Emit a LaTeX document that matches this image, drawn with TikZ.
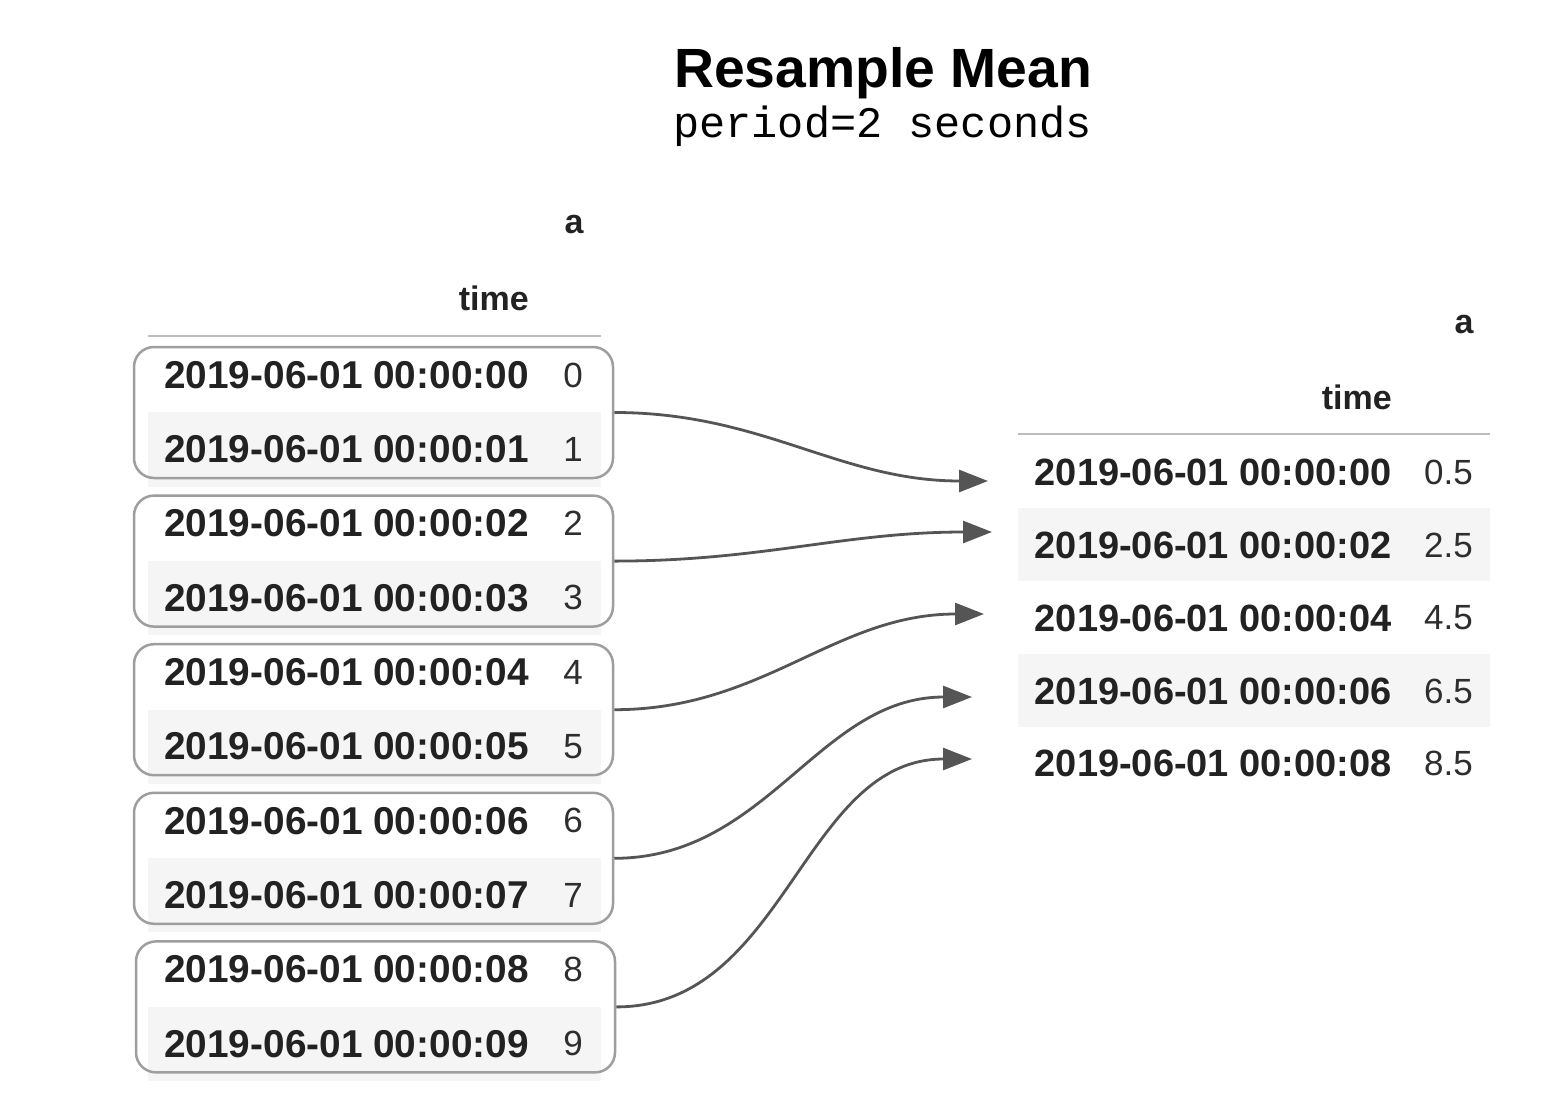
\documentclass[tikz,border=0pt]{standalone}
\usepackage{fontspec}
\setmainfont{Liberation Sans}
\newfontfamily\monofam{Liberation Mono}
\usetikzlibrary{arrows.meta}
\definecolor{bandgray}{HTML}{F5F5F5}
\definecolor{rulegray}{HTML}{BDBDBD}
\definecolor{boxgray}{HTML}{9E9E9E}
\definecolor{arrowgray}{HTML}{555555}
\definecolor{datecol}{HTML}{222222}
\definecolor{valcol}{HTML}{2E2E2E}
\tikzset{
  datetxt/.style={anchor=east, inner sep=0pt, text=datecol, font=\fontsize{38.8}{40}\selectfont\bfseries},
  rdatetxt/.style={datetxt, font=\fontsize{38}{40}\selectfont\bfseries},
  valtxt/.style={anchor=east, inner sep=0pt, text=valcol, font=\fontsize{35}{38}\selectfont},
  hdrtxt/.style={inner sep=0pt, text=datecol, font=\fontsize{34}{36}\selectfont\bfseries},
  band/.style={fill=bandgray, draw=none},
  hrule/.style={draw=rulegray, line width=2.5pt},
  grpbox/.style={draw=boxgray, line width=2.5pt, rounded corners=20pt, minimum width=479pt, minimum height=131pt, inner sep=0pt},
  conn/.style={draw=arrowgray, line width=2.8pt, -{Triangle[length=29pt,width=22pt]}, out=0, in=180},
}
\begin{document}
\begin{tikzpicture}[x=1pt,y=-1pt]
\useasboundingbox[fill=white] (0,0) rectangle (1568,1116);

% title
\node[anchor=base west, inner sep=0pt, font=\fontsize{55.3}{60}\selectfont\bfseries] (title) at (674,87) {Resample Mean};
\node[anchor=base west, inner sep=0pt, font=\fontsize{43.6}{46}\selectfont\monofam] (subtitle) at (673,137) {period=2 seconds};

% ---------- left table ----------
\foreach \i in {1,3,5,7,9}{
  \fill[band] (148,{338+74.3*\i}) rectangle (601,{338+74.3*(\i+1)});
}
\draw[hrule] (148,336) -- (601,336);
\node[hdrtxt] (la) at (574,225) {a};
\node[hdrtxt, anchor=east] (ltime) at (529,298) {time};

\foreach \i/\s in {0/00,1/01,2/02,3/03,4/04,5/05,6/06,7/07,8/08,9/09}{
  \node[datetxt] (ld\i) at (529,{375+74.3*\i}) {2019-06-01 00:00:\s};
  \node[valtxt] (lv\i) at (583,{375+74.3*\i}) {\i};
}

% group boxes
\node[grpbox] (g0) at (373.5,412.5) {};
\node[grpbox] (g1) at (373.5,561.1) {};
\node[grpbox] (g2) at (373.5,709.7) {};
\node[grpbox] (g3) at (373.5,858.3) {};
\node[grpbox] (g4) at (375.5,1006.9) {};

% ---------- right table ----------
\fill[band] (1018,508) rectangle (1490,581);
\fill[band] (1018,654) rectangle (1490,727);
\draw[hrule] (1018,434) -- (1490,434);
\node[hdrtxt] (ra) at (1464,325) {a};
\node[hdrtxt, anchor=east] (rtime) at (1392,397) {time};

\node[rdatetxt] (rd0) at (1392,472) {2019-06-01 00:00:00};
\node[valtxt]  (rv0) at (1473,472) {0.5};
\node[rdatetxt] (rd1) at (1392,545) {2019-06-01 00:00:02};
\node[valtxt]  (rv1) at (1473,545) {2.5};
\node[rdatetxt] (rd2) at (1392,618) {2019-06-01 00:00:04};
\node[valtxt]  (rv2) at (1473,618) {4.5};
\node[rdatetxt] (rd3) at (1392,691) {2019-06-01 00:00:06};
\node[valtxt]  (rv3) at (1473,691) {6.5};
\node[rdatetxt] (rd4) at (1392,763) {2019-06-01 00:00:08};
\node[valtxt]  (rv4) at (1473,763) {8.5};

% arrow targets
\coordinate (t0) at (988,481);
\coordinate (t1) at (992,532);
\coordinate (t2) at (984,614);
\coordinate (t3) at (972,697);
\coordinate (t4) at (972,759);

% connectors
\draw[conn] (g0.east) to (t0);
\draw[conn] (g1.east) to (t1);
\draw[conn] (g2.east) to (t2);
\draw[conn] (g3.east) to (t3);
\draw[conn] (g4.east) to (t4);
\end{tikzpicture}
\end{document}
